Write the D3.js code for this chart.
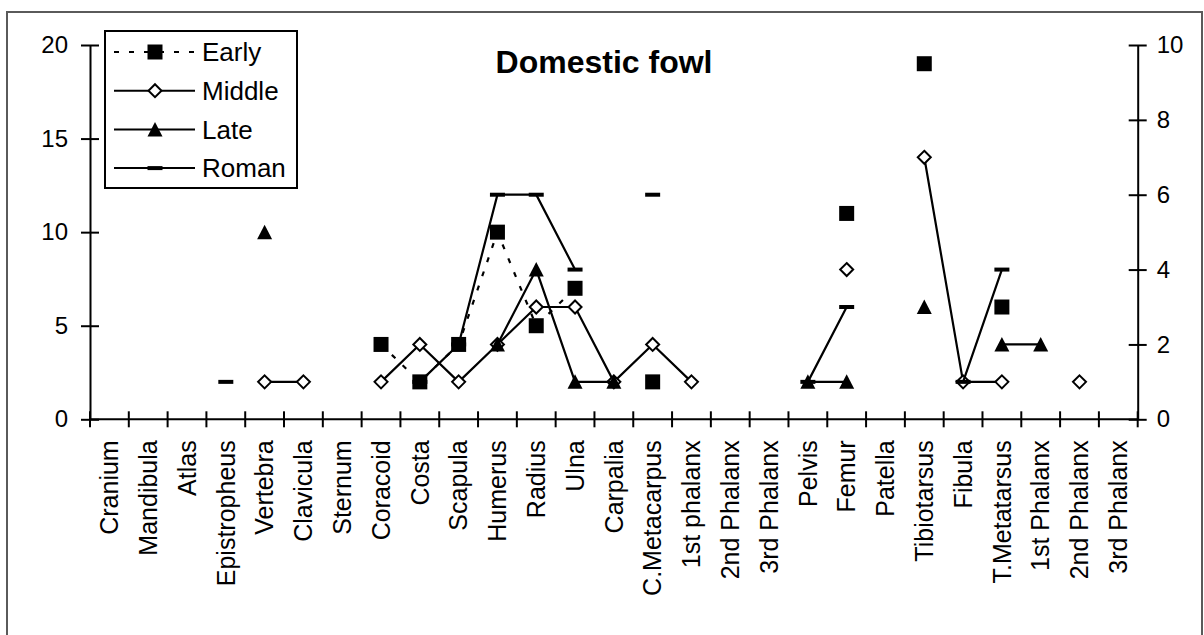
<!DOCTYPE html>
<meta charset="utf-8">
<script src="https://d3js.org/d3.v7.min.js"></script>
<style>
  body { margin: 0; background: #fff; }
  text { font-family: "Liberation Sans", Arial, sans-serif; fill: #000; }
</style>
<body>
<script>
// bone elements along the x axis (duplicates for wing and foot phalanges)
var bones = ["Cranium", "Mandibula", "Atlas", "Epistropheus", "Vertebra", "Clavicula",
  "Sternum", "Coracoid", "Costa", "Scapula", "Humerus", "Radius", "Ulna", "Carpalia",
  "C.Metacarpus", "1st phalanx", "2nd Phalanx", "3rd Phalanx", "Pelvis", "Femur",
  "Patella", "Tibiotarsus", "Fibula", "T.Metatarsus", "1st Phalanx", "2nd Phalanx", "3rd Phalanx"];

// Early (0-20), the others off the right axis (0-10)
var early  = [null, null, null, null, null, null, null, 4, 2, 4, 10, 5, 7, null, 2, null, null, null, null, 11, null, 19, null, 6, null, null, null];
var middle = [null, null, null, null, 1, 1, null, 1, 2, 1, 2, 3, 3, 1, 2, 1, null, null, null, 4, null, 7, 1, 1, null, 1, null];
var late   = [null, null, null, null, 5, null, null, null, null, null, 2, 4, 1, 1, null, null, null, null, 1, 1, null, 3, null, 2, 2, null, null];
var roman  = [null, null, null, 1, null, null, null, null, 1, 2, 6, 6, 4, null, 6, null, null, null, 1, 3, null, null, 1, 4, null, null, null];

var leftTicks = [0, 5, 10, 15, 20];
var rightTicks = [0, 2, 4, 6, 8, 10];

var W = 1204, H = 635;
var plot = {left: 90, right: 1137.7, top: 45, bottom: 419.3};

var svg = d3.select("body").append("svg")
  .attr("width", W).attr("height", H);

// outer chart frame
svg.append("rect")
  .attr("x", 7).attr("y", 12)
  .attr("width", 1195).attr("height", 640)
  .attr("fill", "none").attr("stroke", "#5a5a5a").attr("stroke-width", 2);

var x = d3.scaleBand().domain(d3.range(bones.length)).range([plot.left, plot.right]).padding(0);
var yL = d3.scaleLinear().domain([0, 20]).range([plot.bottom, plot.top]);
var yR = d3.scaleLinear().domain([0, 10]).range([plot.bottom, plot.top]);
function cx(i) { return x(i) + x.bandwidth() / 2; }

// left axis
var gl = svg.append("g").attr("transform", "translate(" + plot.left + ",0)")
  .call(d3.axisLeft(yL).tickValues(leftTicks).tickSize(9).tickPadding(13).tickSizeOuter(0));
gl.selectAll(".tick line").attr("x1", 9);
// right axis
var gr = svg.append("g").attr("transform", "translate(" + plot.right + ",0)")
  .call(d3.axisRight(yR).tickValues(rightTicks).tickSize(9).tickPadding(10).tickSizeOuter(0));
gr.selectAll(".tick line").attr("x1", -9);
[gl, gr].forEach(function(g) {
  g.select(".domain").attr("stroke", "#000").attr("stroke-width", 2);
  g.selectAll(".tick line").attr("stroke", "#000").attr("stroke-width", 2);
  g.selectAll(".tick text").style("font-size", "24px").attr("fill", "#000");
});

// bottom axis: labels at band centres, ticks at band edges
var gx = svg.append("g").attr("transform", "translate(0," + plot.bottom + ")")
  .call(d3.axisBottom(x).tickSize(0).tickSizeOuter(0).tickFormat(function(i) { return bones[i]; }));
gx.select(".domain").remove();
gx.append("line").attr("x1", plot.left).attr("x2", plot.right)
  .attr("stroke", "#000").attr("stroke-width", 2);
var edges = d3.range(bones.length).map(function(i) { return x(i); }).concat([plot.right]);
gx.selectAll(".edge").data(edges).enter().append("line")
  .attr("class", "edge")
  .attr("x1", function(d) { return d; }).attr("x2", function(d) { return d; })
  .attr("y1", -8).attr("y2", 8)
  .attr("stroke", "#000").attr("stroke-width", 2);
gx.selectAll(".tick text")
  .attr("transform", "rotate(-90)")
  .attr("x", -21).attr("y", 0).attr("dy", "0.35em")
  .attr("text-anchor", "end")
  .style("font-size", "25px").attr("fill", "#000");

// marker shapes
var shapes = {
  square: "M-7.5,-7.5H7.5V7.5H-7.5Z",
  diamond: "M0,-6.5L6.5,0L0,6.5L-6.5,0Z",
  triangle: "M0,-7.5L7.5,7L-7.5,7Z",
  dash: "M-7.5,-2H7.5V2H-7.5Z"
};

var series = [
  {name: "Early", values: early, y: yL, dash: "5,10", shape: "square", fill: "#000", stroke: "none"},
  {name: "Middle", values: middle, y: yR, dash: null, shape: "diamond", fill: "#fff", stroke: "#000"},
  {name: "Late", values: late, y: yR, dash: null, shape: "triangle", fill: "#000", stroke: "none"},
  {name: "Roman", values: roman, y: yR, dash: null, shape: "dash", fill: "#000", stroke: "none"}
];

series.forEach(function(s) {
  var pts = s.values.map(function(v, i) { return {i: i, v: v}; });
  var line = d3.line()
    .defined(function(d) { return d.v != null; })
    .x(function(d) { return cx(d.i); })
    .y(function(d) { return s.y(d.v); });
  var g = svg.append("g");
  g.append("path").datum(pts)
    .attr("d", line)
    .attr("fill", "none").attr("stroke", "#000").attr("stroke-width", 2.2)
    .attr("stroke-dasharray", s.dash);
  g.selectAll("path.mk").data(pts.filter(function(d) { return d.v != null; }))
    .enter().append("path").attr("class", "mk")
    .attr("d", shapes[s.shape])
    .attr("transform", function(d) { return "translate(" + cx(d.i) + "," + s.y(d.v) + ")"; })
    .attr("fill", s.fill).attr("stroke", s.stroke).attr("stroke-width", 2);
});

// title
svg.append("text")
  .attr("x", 604).attr("y", 73)
  .attr("text-anchor", "middle")
  .style("font-size", "32px").style("font-weight", "bold")
  .text("Domestic fowl");

// legend
var lg = svg.append("g");
lg.append("rect")
  .attr("x", 105).attr("y", 31).attr("width", 192).attr("height", 157)
  .attr("fill", "#fff").attr("stroke", "#000").attr("stroke-width", 2);
var row = lg.selectAll(".row").data(series).enter().append("g")
  .attr("class", "row")
  .attr("transform", function(d, i) { return "translate(0," + (52 + i * 38.7) + ")"; });
row.append("line")
  .attr("x1", 114).attr("x2", 195)
  .attr("stroke", "#000").attr("stroke-width", 2)
  .attr("stroke-dasharray", function(d) { return d.dash; });
row.append("path")
  .attr("d", function(d) { return shapes[d.shape]; })
  .attr("transform", "translate(155,0)")
  .attr("fill", function(d) { return d.fill; })
  .attr("stroke", function(d) { return d.stroke; }).attr("stroke-width", 2);
row.append("text")
  .attr("x", 202).attr("y", 0).attr("dy", "0.36em")
  .style("font-size", "26px")
  .text(function(d) { return d.name; });
</script>
</body>
